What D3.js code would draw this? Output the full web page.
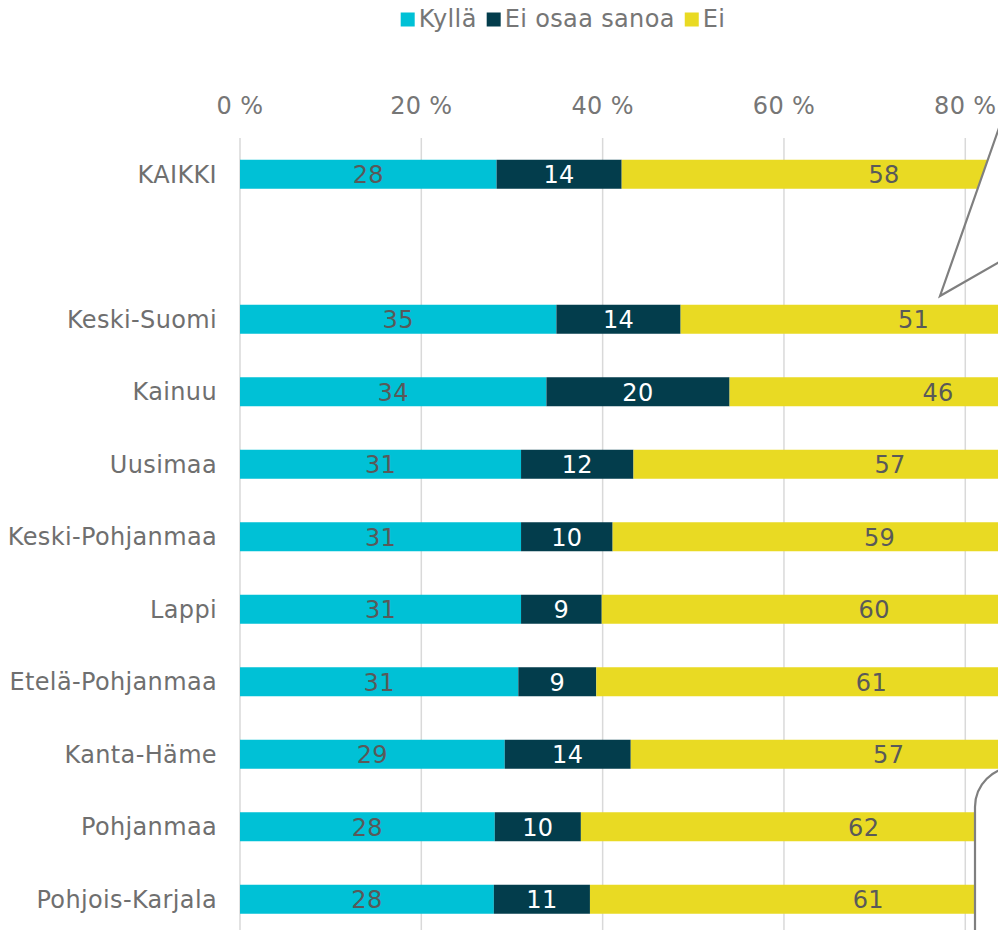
<!DOCTYPE html>
<html>
<head>
<meta charset="utf-8">
<script src="https://cdn.jsdelivr.net/npm/d3@7"></script>
<style>
  html, body { margin: 0; padding: 0; background: #fff; overflow: hidden; }
  svg text { font-family: Verdana, "DejaVu Sans", sans-serif; letter-spacing: 0.35px; }
</style>
</head>
<body>
<div id="chart"></div>
<script>
// categories, top to bottom ("" is the empty spacer row)
const regions = ["KAIKKI", "", "Keski-Suomi", "Kainuu", "Uusimaa", "Keski-Pohjanmaa",
  "Lappi", "Etelä-Pohjanmaa", "Kanta-Häme", "Pohjanmaa", "Pohjois-Karjala"];
const kylla = [28.3, null, 34.9, 33.8, 31.0, 31.0, 31.0, 30.7, 29.2, 28.1, 28.0];
const eiOsaa = [13.8, null, 13.7, 20.2, 12.4, 10.1, 8.9, 8.6, 13.9, 9.5, 10.6];
const ei = [57.9, null, 51.4, 46.0, 56.6, 58.9, 60.1, 60.7, 56.9, 62.4, 61.4];
const seriesNames = ["Kyllä", "Ei osaa sanoa", "Ei"];
const seriesColors = ["#00c1d6", "#033d4c", "#e9da23"];
const labelColors = ["#595959", "#ffffff", "#595959"];
const xTicks = [0, 20, 40, 60, 80, 100];

const W = 998, H = 930;
const fontSize = 24;
const svg = d3.select("#chart").append("svg")
  .attr("width", W).attr("height", H);

const x = d3.scaleLinear().domain([0, 100]).range([240, 240 + 100 * 9.066]);
const y = d3.scaleBand().domain(regions)
  .range([138, 138 + regions.length * 72.5])
  .paddingInner(0.6).paddingOuter(0.3);

// rows -> stacked data
const rows = regions.map((r, i) => ({ region: r, "Kyllä": kylla[i], "Ei osaa sanoa": eiOsaa[i], "Ei": ei[i] }))
  .filter(d => d.region !== "");
const stack = d3.stack().keys(seriesNames)(rows);

// grid
const grid = svg.append("g");
function drawGrid(g) {
  g.selectAll("line").data(xTicks).enter().append("line")
    .attr("x1", d => x(d)).attr("x2", d => x(d))
    .attr("y1", 138).attr("y2", H)
    .attr("stroke", "#d9d9d9").attr("stroke-width", 1.5);
}
drawGrid(grid);

// tick labels
svg.append("g").selectAll("text").data(xTicks).enter().append("text")
  .attr("x", d => x(d)).attr("y", 114)
  .attr("text-anchor", "middle")
  .attr("font-size", fontSize).attr("fill", "#767676")
  .text(d => d + " %");

// category labels
svg.append("g").selectAll("text").data(regions.filter(r => r !== "")).enter().append("text")
  .attr("x", 217).attr("y", d => y(d) + y.bandwidth() / 2)
  .attr("dy", "0.36em")
  .attr("text-anchor", "end")
  .attr("font-size", fontSize).attr("fill", "#6f6f6f")
  .text(d => d);

// bars
stack.forEach((layer, si) => {
  const g = svg.append("g");
  g.selectAll("rect").data(layer).enter().append("rect")
    .attr("x", d => x(d[0]))
    .attr("width", d => x(d[1]) - x(d[0]))
    .attr("y", d => y(d.data.region))
    .attr("height", y.bandwidth())
    .attr("fill", seriesColors[si]);
  g.selectAll("text").data(layer).enter().append("text")
    .attr("x", d => (x(d[0]) + x(d[1])) / 2)
    .attr("y", d => y(d.data.region) + y.bandwidth() / 2)
    .attr("dy", "0.37em")
    .attr("text-anchor", "middle")
    .attr("font-size", fontSize).attr("fill", labelColors[si])
    .text(d => Math.round(d[1] - d[0]));
});

// legend
const legend = svg.append("g");
let lx = 0;
seriesNames.forEach((name, i) => {
  legend.append("rect").attr("x", lx).attr("y", 12.5)
    .attr("width", 14).attr("height", 14).attr("fill", seriesColors[i]);
  const t = legend.append("text").attr("x", lx + 18).attr("y", 27)
    .attr("font-size", fontSize).attr("fill", "#767676").text(name);
  lx += 18 + t.node().getComputedTextLength() + 10;
});
const lw = lx - 10;
legend.attr("transform", `translate(${563 - lw / 2},0)`);

// callout wedge (top right)
const wedge = "M1020,68 L940,296 L1020,250 Z";
svg.append("path").attr("d", wedge)
  .attr("fill", "#fff").attr("stroke", "none");
svg.append("clipPath").attr("id", "wedgeClip")
  .append("path").attr("d", wedge);
drawGrid(svg.append("g").attr("clip-path", "url(#wedgeClip)"));
svg.append("path").attr("d", wedge)
  .attr("fill", "none").attr("stroke", "#7f7f7f").attr("stroke-width", 2.2)
  .attr("stroke-linejoin", "miter");

// callout box (bottom right)
svg.append("rect")
  .attr("x", 975).attr("y", 767).attr("width", 300).attr("height", 400)
  .attr("rx", 40).attr("ry", 40)
  .attr("fill", "#fff").attr("stroke", "#7f7f7f").attr("stroke-width", 2.2);
</script>
</body>
</html>
